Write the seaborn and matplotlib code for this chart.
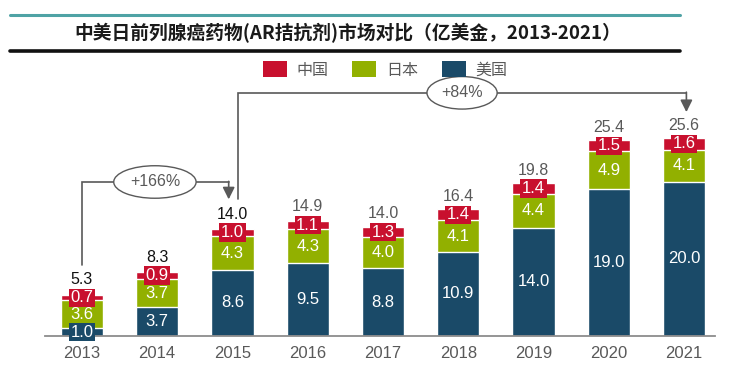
import matplotlib
matplotlib.use("Agg")
import matplotlib.pyplot as plt
from matplotlib.lines import Line2D
from matplotlib.patches import Patch
import seaborn as sns
import pandas as pd

years = ["2013", "2014", "2015", "2016", "2017", "2018", "2019", "2020", "2021"]
us = [1.0, 3.7, 8.6, 9.5, 8.8, 10.9, 14.0, 19.0, 20.0]
jp = [3.6, 3.7, 4.3, 4.3, 4.0, 4.1, 4.4, 4.9, 4.1]
cn = [0.7, 0.9, 1.0, 1.1, 1.3, 1.4, 1.4, 1.5, 1.6]
totals = [5.3, 8.3, 14.0, 14.9, 14.0, 16.4, 19.8, 25.4, 25.6]
total_colors = ["#111111", "#111111", "#111111", "#595959", "#595959",
                "#595959", "#595959", "#595959", "#595959"]
growth1 = "+166%"
growth2 = "+84%"

RED = "#C8102E"
GREEN = "#92B000"
NAVY = "#1A4A68"
GRAY = "#595959"

sns.set_theme(style="white")
NUM_FONT = ["Liberation Sans", "Noto Sans CJK SC", "DejaVu Sans"]
CJK_FONT = ["Noto Sans CJK SC", "DejaVu Sans"]
plt.rcParams["font.family"] = NUM_FONT

df = pd.DataFrame({"year": years, "us": us, "jp": jp, "cn": cn})
df["us_jp"] = df["us"] + df["jp"]
df["all"] = df["us_jp"] + df["cn"]

fig = plt.figure(figsize=(7.29, 3.70), dpi=100)
ax = fig.add_axes([45 / 729, 34 / 370, 670 / 729, 336 / 370])

W = 0.56
sns.barplot(data=df, x="year", y="all", color=RED, width=W, saturation=1,
            errorbar=None, ax=ax, order=years)
sns.barplot(data=df, x="year", y="us_jp", color=GREEN, width=W, saturation=1,
            errorbar=None, ax=ax, order=years)
sns.barplot(data=df, x="year", y="us", color=NAVY, width=W, saturation=1,
            errorbar=None, ax=ax, order=years)

ax.set_xlim(-0.49, 8.41)
ax.set_ylim(0, 336 / 7.72)
ax.set_xlabel("")
ax.set_ylabel("")
ax.set_yticks([])
for s in ["top", "left", "right"]:
    ax.spines[s].set_visible(False)
ax.spines["bottom"].set_color("#8C8C8C")
ax.spines["bottom"].set_linewidth(1.3)
ax.tick_params(axis="x", length=0, pad=7, labelsize=12, labelcolor=GRAY)
for lab in ax.get_xticklabels():
    lab.set_family(NUM_FONT)

for i in range(len(years)):
    u, j, c = us[i], jp[i], cn[i]
    if i == 0:
        ax.text(i, u / 2, f"{u:.1f}", ha="center", va="center", color="white",
                fontsize=12, bbox=dict(boxstyle="square,pad=0.1", fc=NAVY, ec="none"))
    else:
        ax.text(i, u / 2, f"{u:.1f}", ha="center", va="center", color="white", fontsize=12)
    ax.text(i, u + j / 2, f"{j:.1f}", ha="center", va="center", color="white", fontsize=12)
    rc = u + j + c / 2
    ax.text(i, rc, f"{c:.1f}", ha="center", va="center", color="white", fontsize=12,
            bbox=dict(boxstyle="square,pad=0.1", fc=RED, ec="none"))
    ax.text(i, rc + 1.4, f"{totals[i]:.1f}", ha="center", va="bottom",
            color=total_colors[i], fontsize=11.5)

lc = GRAY
y1 = 19.95
ax.plot([0, 0, 1.95], [totals[0] + 3.9, y1, y1], color=lc, lw=1.2, solid_joinstyle="miter")
ax.annotate("", xy=(1.95, 17.7), xytext=(1.95, y1 + 0.08),
            arrowprops=dict(arrowstyle="-|>,head_length=0.6,head_width=0.3",
                            color=lc, lw=1.2, shrinkA=0, shrinkB=0))
ax.text(0.97, y1, growth1, ha="center", va="center", color=GRAY, fontsize=11.5,
        bbox=dict(boxstyle="ellipse,pad=0.25", fc="white", ec=GRAY, lw=1))

y2 = 31.5
ax.plot([2.07, 2.07, 8.03], [17.75, y2, y2], color=lc, lw=1.2, solid_joinstyle="miter")
ax.annotate("", xy=(8.03, 29.0), xytext=(8.03, y2 + 0.08),
            arrowprops=dict(arrowstyle="-|>,head_length=0.6,head_width=0.3",
                            color=lc, lw=1.2, shrinkA=0, shrinkB=0))
ax.text(5.05, y2, growth2, ha="center", va="center", color=GRAY, fontsize=11.5,
        bbox=dict(boxstyle="ellipse,pad=0.25", fc="white", ec=GRAY, lw=1))

fig.add_artist(Line2D([10 / 729, 680 / 729], [1 - 15 / 370] * 2, color="#4FA3A5", lw=2.2))
fig.add_artist(Line2D([10 / 729, 680 / 729], [1 - 51 / 370] * 2, color="#111111", lw=2.6))
fig.text(348 / 729, 1 - 33 / 370, "中美日前列腺癌药物(AR拮抗剂)市场对比（亿美金，2013-2021）",
         ha="center", va="center", fontsize=13.5, color="#1A1A1A", family=CJK_FONT,
         fontweight="bold")

handles = [Patch(fc=RED, ec="none"), Patch(fc=GREEN, ec="none"), Patch(fc=NAVY, ec="none")]
leg = fig.legend(handles, ["中国", "日本", "美国"], loc="center", ncol=3,
                 bbox_to_anchor=(385 / 729, 1 - 70 / 370), frameon=False,
                 prop={"family": CJK_FONT, "size": 11.5}, handlelength=1.5,
                 handleheight=1.1, handletextpad=0.6, columnspacing=1.5)
for t in leg.get_texts():
    t.set_color(GRAY)

fig.savefig("out.png", dpi=100)
